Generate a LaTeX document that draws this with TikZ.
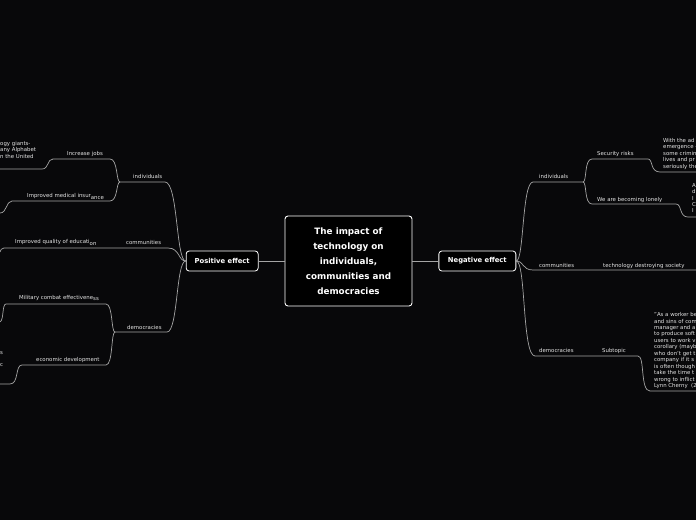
\documentclass[tikz,border=0pt]{standalone}
\usepackage{fontspec}
\setmainfont{DejaVu Sans}
\usetikzlibrary{positioning}
\definecolor{MapBack}{RGB}{8,8,10}
\definecolor{MapLine}{RGB}{165,165,165}
\definecolor{MapText}{RGB}{228,228,228}

\tikzset{
  topic/.style={text=MapText, font=\fontsize{5.4}{6.45}\selectfont, inner sep=0pt, anchor=base west},
  leaf/.style={topic, align=left, anchor=north west},
  mainbox/.style={draw=white, fill=black, rounded corners=3pt, line width=0.9pt,
    text=white, font=\bfseries\fontsize{8.8}{15}\selectfont, align=center,
    minimum width=127pt, minimum height=90pt},
  effectbox/.style={draw=white, fill=black, rounded corners=3pt, line width=0.8pt,
    text=white, font=\bfseries\fontsize{6.8}{8}\selectfont, minimum height=20pt},
  link/.style={MapLine, line width=0.7pt},
}
\newcommand{\lowtxt}[1]{\raisebox{-1.8pt}{#1}}

\begin{document}
\begin{tikzpicture}[x=1pt,y=-1pt]
  \useasboundingbox (0,0) rectangle (696,520);
  \fill[MapBack] (0,0) rectangle (696,520);
  \clip (0,0) rectangle (696,520);

  % centre and the two effects
  \node[mainbox] (root) at (348.5,261) {The impact of\\ technology on\\ individuals,\\ communities and\\ democracies};
  \node[effectbox, minimum width=72pt, left=26pt of root] (pos) {Positive effect};
  \node[effectbox, minimum width=77pt, right=26pt of root] (neg) {Negative effect};
  \draw[link] (root) -- (pos);
  \draw[link] (root) -- (neg);

  % positive side
  \coordinate (lind-r) at (165,182);
  \coordinate (lind-l) at (120,182);
  \coordinate (ldem-r) at (167,332);
  \coordinate (ldem-l) at (115,332);
  \node[topic] (lind) at (133,178.5) {individuals};
  \node[topic] (lcom) at (126,244) {communities};
  \node[topic] (ldem) at (127,329) {democracies};
  \node[topic] (ljobs) at (67,155.5) {Increase jobs};
  \node[topic] (lmed) at (27,197.5) {Improved medical insur\lowtxt{ance}};
  \node[topic] (ledu) at (15,243.5) {Improved quality of educati\lowtxt{on}};
  \node[topic] (lmil) at (19,299) {Military combat effectivene\lowtxt{ss}};
  \node[topic] (leco) at (36,361) {economic development};
  \node[leaf] (ljobs-leaf) at (0,141) {ogy giants-\\ any Alphabet\\ n the United};
  \node[topic] (leco-s) at (0,354.5) {s};
  \node[topic] (leco-c) at (0,366.5) {c};

  \draw[link] (pos.west) .. controls (176,261) and (178,182) .. (lind-r) -- (lind-l);
  \draw[link] (lind-l) .. controls (116,182) and (118,159) .. (110,159) -- (53,159)
    .. controls (47,159) and (49,169) .. (42,169) -- (0,169);
  \draw[link] (lind-l) .. controls (116,182) and (118,201) .. (110,201) -- (12,201)
    .. controls (6,201) and (7,213) .. (0,213);
  \draw[link] (pos.west) .. controls (178,261) and (180,248) .. (168,248) -- (4,248)
    .. controls (1,248) and (1,250) .. (0,252);
  \draw[link] (pos.west) .. controls (176,261) and (178,332) .. (ldem-r) -- (ldem-l);
  \draw[link] (ldem-l) .. controls (111,332) and (113,304) .. (106,304) -- (6,304)
    .. controls (2,304) and (4,320) .. (0,322);
  \draw[link] (ldem-l) .. controls (111,332) and (113,365) .. (106,365) -- (22,365)
    .. controls (15,365) and (19,384) .. (10,384) -- (0,384);

  % negative side
  \coordinate (rind-l) at (533,182);
  \coordinate (rind-r) at (583,182);
  \node[topic] (rind) at (539,178.5) {individuals};
  \node[topic] (rcom) at (539,267.5) {communities};
  \node[topic] (rdem) at (539,352.5) {democracies};
  \node[topic] (rsec) at (597,155) {Security risks};
  \node[topic] (rlone) at (597,201) {We are becoming lonely};
  \node[topic] (rsoc) at (603,267.5) {technology destroying society};
  \node[topic] (rsub) at (602,352.5) {Subtopic};
  \node[leaf] (rsec-leaf) at (663,138) {With the ad\\ emergence -\\ some crimin\\ lives and pr\\ seriously the};
  \node[leaf] (rlone-leaf) at (692,183) {A\\ d\\ I\\ C\\ I};
  \node[leaf] (rsub-leaf) at (654,312.3) {"As a worker be\\ and sins of com\\ manager and a\\ to produce soft\\ users to work v\\ corollary (mayb\\ who don't get t\\ company if it s\\ is often though\\ take the time t\\ wrong to inflict\\ Lynn Cherny~~(2};

  \draw[link] (neg.east) .. controls (524,261) and (522,182) .. (rind-l) -- (rind-r);
  \draw[link] (rind-r) .. controls (587,182) and (584,159) .. (592,159) -- (648,159)
    .. controls (653,159) and (650,172) .. (660,172) -- (696,172);
  \draw[link] (rind-r) .. controls (587,182) and (584,204) .. (592,204) -- (676,204)
    .. controls (682,204) and (679,217) .. (688,217) -- (696,217);
  \draw[link] (neg.east) .. controls (524,261) and (522,270) .. (533,270) -- (696,270);
  \draw[link] (neg.east) .. controls (526,261) and (522,356) .. (535,356) -- (638,356)
    .. controls (645,356) and (640,391) .. (650,391) -- (696,391);
\end{tikzpicture}
\end{document}
